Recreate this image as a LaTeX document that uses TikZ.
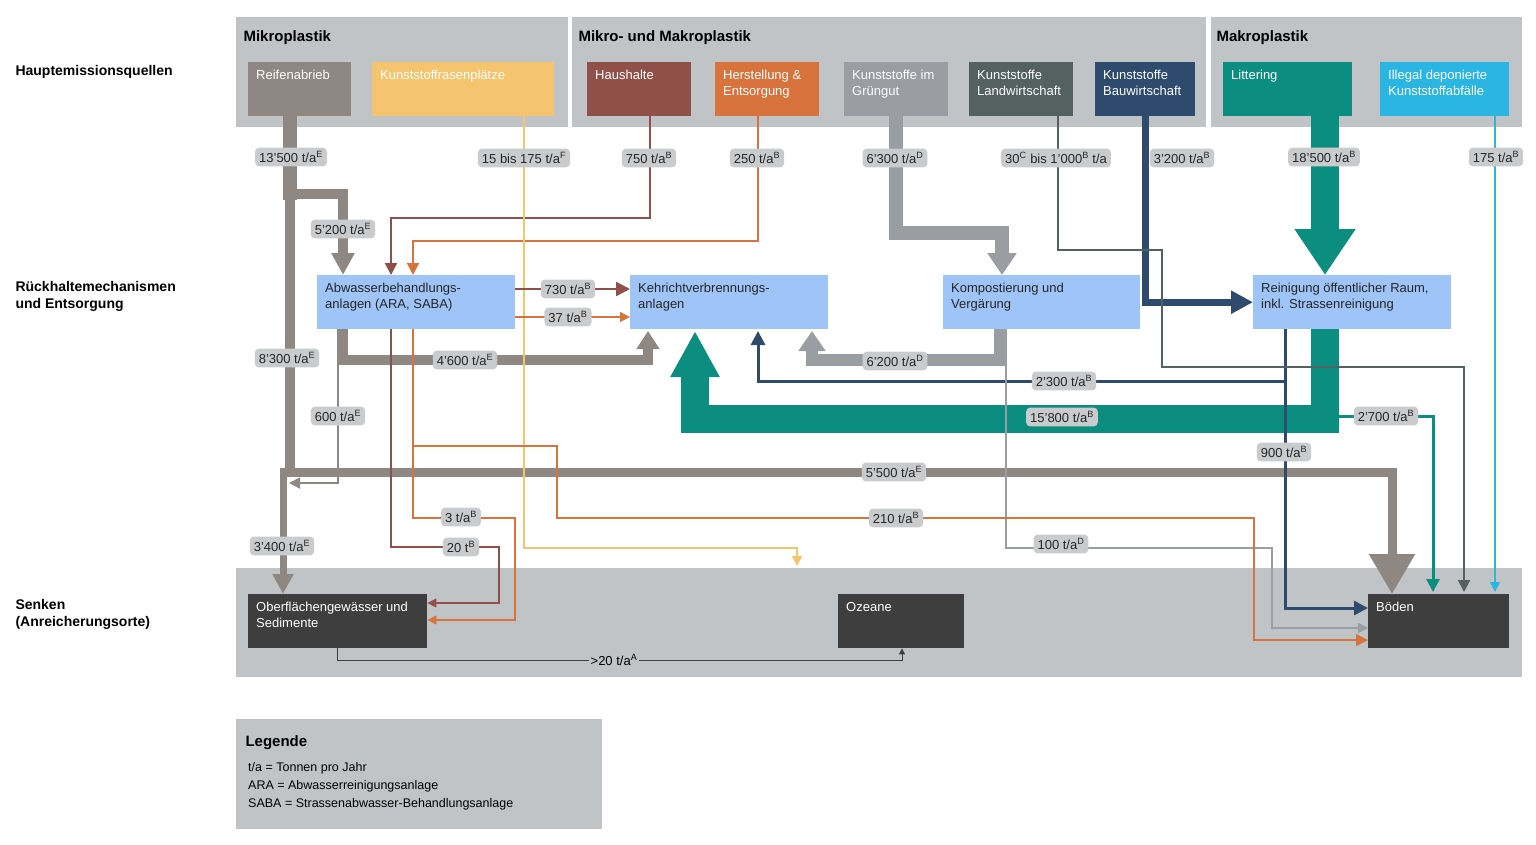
\documentclass[tikz,border=0pt]{standalone}
\usepackage{fontspec}
\setmainfont{Liberation Sans}
\usetikzlibrary{arrows.meta}

\definecolor{panel}{HTML}{C1C4C7}
\definecolor{labgray}{HTML}{C9CBCD}
\definecolor{cTire}{HTML}{8E8782}
\definecolor{cTurf}{HTML}{F5C46E}
\definecolor{cHouse}{HTML}{8E5048}
\definecolor{cProd}{HTML}{D8733E}
\definecolor{cGreen}{HTML}{9A9EA3}
\definecolor{cAgri}{HTML}{53625F}
\definecolor{cBau}{HTML}{2E4A6D}
\definecolor{cLitter}{HTML}{0B8E80}
\definecolor{cIllegal}{HTML}{2AB5E2}
\definecolor{cMid}{HTML}{9EC4F8}
\definecolor{cSink}{HTML}{3E3E3E}

\newcommand\btxt[2]{\parbox[t][38pt][t]{#1}{#2}}

\begin{document}
\begin{tikzpicture}[x=1pt,y=-1pt,
  every node/.style={font=\fontsize{13}{15.5}\selectfont},
  box/.style={anchor=north west, inner sep=8pt, align=left},
  src/.style={box, text=white},
  mid/.style={box, fill=cMid, text=black!85},
  sink/.style={box, fill=cSink, text=white},
  lab/.style={fill=labgray, rounded corners=4pt, inner sep=4pt, text=black!85},
  head/.style={anchor=west, font=\fontsize{15}{18}\selectfont\bfseries},
  tip/.style={-{Triangle[width=#1,length=#1]}}
]
\useasboundingbox (0,0) rectangle (1536,844);

% panels
\fill[panel] (236,17) rectangle (568,127);
\fill[panel] (572,17) rectangle (1206,127);
\fill[panel] (1211,17) rectangle (1522,127);
\fill[panel] (236,568) rectangle (1522,677);
\fill[panel] (236,719) rectangle (602,829);

\node[head] (hMikro) at (240,38) {Mikroplastik};
\node[head] (hMiMa) at (575,38) {Mikro- und Makroplastik};
\node[head] (hMakro) at (1213,38) {Makroplastik};

\node[head, font=\fontsize{14}{17}\selectfont\bfseries] (rQuellen) at (12,72) {Hauptemissionsquellen};
\node[head, font=\fontsize{14}{17}\selectfont\bfseries, align=left] (rRueck) at (12,296) {Rückhaltemechanismen\\und Entsorgung};
\node[head, font=\fontsize{14}{17}\selectfont\bfseries, align=left] (rSenken) at (12,614) {Senken\\(Anreicherungsorte)};

% sources
\node[src, fill=cTire] (reifen) at (248,62) {\btxt{87pt}{Reifenabrieb}};
\node[src, fill=cTurf] (rasen) at (372,62) {\btxt{166pt}{Kunststoffrasenplätze}};
\node[src, fill=cHouse] (haus) at (587,62) {\btxt{88pt}{Haushalte}};
\node[src, fill=cProd] (herst) at (715,62) {\btxt{88pt}{Herstellung \&\\Entsorgung}};
\node[src, fill=cGreen] (gruen) at (844,62) {\btxt{88pt}{Kunststoffe im\\Grüngut}};
\node[src, fill=cAgri] (agri) at (969,62) {\btxt{88pt}{Kunststoffe\\Landwirtschaft}};
\node[src, fill=cBau] (bau) at (1095,62) {\btxt{84pt}{Kunststoffe\\Bauwirtschaft}};
\node[src, fill=cLitter] (litter) at (1223,62) {\btxt{113pt}{Littering}};
\node[src, fill=cIllegal] (illegal) at (1380,62) {\btxt{113pt}{Illegal deponierte\\Kunststoffabfälle}};

% retention
\node[mid] (ara) at (317,275) {\btxt{182pt}{Abwasserbehandlungs-\\anlagen (ARA, SABA)}};
\node[mid] (kva) at (630,275) {\btxt{182pt}{Kehrichtverbrennungs-\\anlagen}};
\node[mid] (kompost) at (943,275) {\btxt{181pt}{Kompostierung und\\Vergärung}};
\node[mid] (rein) at (1253,275) {\btxt{182pt}{Reinigung öffentlicher Raum,\\inkl. Strassenreinigung}};

% sinks
\node[sink] (ober) at (248,594) {\btxt{163pt}{Oberflächengewässer und\\Sedimente}};
\node[sink] (ozean) at (838,594) {\btxt{110pt}{Ozeane}};
\node[sink] (boeden) at (1368,594) {\btxt{125pt}{Böden}};

% rails
\coordinate (xT) at (290,0);
\coordinate (xA) at (343,0);
\coordinate (xC) at (283,0);
\coordinate (xB) at (1392,0);
\coordinate (xL) at (1325,0);

% tyre flows
\draw[cTire, line width=14pt] (reifen.south -| xT) -- (290,200);
\draw[cTire, line width=10pt] (290,195) -- (290,477);
\draw[cTire, line width=10pt, tip=22pt] (285,194) -| (ara.north -| xA);
\draw[cTire, line width=9pt, -{Triangle[width=44pt,length=40pt]}] (286,472) -| (boeden.north -| xB);
\draw[cTire, line width=7pt, tip=20pt] (283,468) -- (ober.north -| xC);
\draw[cTire, line width=1.8pt, tip=11pt] (338,329) |- (289,483);
\draw[cTire, line width=10pt, -{Triangle[width=22pt,length=18pt]}] (ara.south -| xA) |- (648,360) -- (648,331);

% littering flows
\draw[cLitter, line width=28pt, -{Triangle[width=58pt,length=46pt]}] (litter.south -| xL) -- (rein.north -| xL);
\draw[cLitter, line width=28pt, -{Triangle[width=46pt,length=46pt]}] (rein.south -| xL) -- (1325,419) -- (695,419) -- (695,331);
\draw[cLitter, line width=3pt, tip=13pt] (1339,416) -| (1433,592);

% construction flows
\draw[cBau, line width=7pt, -{Triangle[width=22pt,length=22pt]}] (bau.south) |- (rein.west);
\draw[cBau, line width=3pt, tip=14pt] (1285,329) |- (758,381) -- (758,331);
\draw[cBau, line width=3pt, tip=14pt] (1285,381) |- (boeden.west |- 0,608);

% agriculture, green waste
\draw[cAgri, line width=2pt, tip=12pt] (agri.south -| 1058,0) |- (1162,250) |- (1464,367) -- (1464,592);
\draw[cGreen, line width=14pt, -{Triangle[width=28pt,length=22pt]}] (gruen.south) |- (1002,233) -- (kompost.north -| 1002,0);
\draw[cGreen, line width=12pt, -{Triangle[width=26pt,length=20pt]}] (kompost.south -| 1000,0) |- (812,360) -- (812,331);
\draw[cGreen, line width=1.5pt, tip=10pt] (1006,329) |- (1272,548) |- (boeden.west |- 0,628);

% other sources
\draw[cIllegal, line width=1.5pt, tip=10pt] (illegal.south -| 1495,0) -- (1495,592);
\draw[cHouse, line width=2pt, tip=12pt] (haus.south -| 650,0) |- (391,218) -- (ara.north -| 391,0);
\draw[cProd, line width=2pt, tip=12pt] (herst.south -| 758,0) |- (413,241) -- (ara.north -| 413,0);
\draw[cTurf, line width=1.5pt, tip=10pt] (rasen.south -| 524,0) |- (797,548) -- (797,566);

% from treatment plants
\draw[cHouse, line width=2.5pt, tip=14pt] (ara.east |- 0,289) -- (kva.west |- 0,289);
\draw[cProd, line width=1.2pt, tip=10pt] (ara.east |- 0,317) -- (kva.west |- 0,317);
\draw[cHouse, line width=1.2pt, tip=9pt] (391,329) |- (499,547) |- (ober.east |- 0,603);
\draw[cProd, line width=1.2pt, tip=9pt] (413,329) |- (515,518) |- (ober.east |- 0,620);
\draw[cProd, line width=1.5pt, tip=12pt] (413,446) -| (557,518) -- (1254,518) |- (boeden.west |- 0,640);
\draw[cSink, line width=1pt, tip=6pt] (ober.south -| 337,0) |- (902,660) -- (ozean.south -| 902,0);

% quantities
\node[lab] (q13500) at (291,157) {13'500 t/a\textsuperscript{E}};
\node[lab] (q175r) at (524,158) {15 bis 175 t/a\textsuperscript{F}};
\node[lab] (q750) at (649,158) {750 t/a\textsuperscript{B}};
\node[lab] (q250) at (757,158) {250 t/a\textsuperscript{B}};
\node[lab] (q6300) at (895,158) {6'300 t/a\textsuperscript{D}};
\node[lab] (q30) at (1056,158) {30\textsuperscript{C} bis 1'000\textsuperscript{B} t/a};
\node[lab] (q3200) at (1182,158) {3'200 t/a\textsuperscript{B}};
\node[lab] (q18500) at (1324,157) {18'500 t/a\textsuperscript{B}};
\node[lab] (q175i) at (1496,157) {175 t/a\textsuperscript{B}};
\node[lab] (q5200) at (343,229) {5'200 t/a\textsuperscript{E}};
\node[lab] (q730) at (568,289) {730 t/a\textsuperscript{B}};
\node[lab] (q37) at (568,317) {37 t/a\textsuperscript{B}};
\node[lab] (q8300) at (287,358) {8'300 t/a\textsuperscript{E}};
\node[lab] (q4600) at (465,360) {4'600 t/a\textsuperscript{E}};
\node[lab] (q600) at (338,416) {600 t/a\textsuperscript{E}};
\node[lab] (q6200) at (895,361) {6'200 t/a\textsuperscript{D}};
\node[lab] (q2300) at (1064,381) {2'300 t/a\textsuperscript{B}};
\node[lab] (q15800) at (1062,417) {15'800 t/a\textsuperscript{B}};
\node[lab] (q2700) at (1386,416) {2'700 t/a\textsuperscript{B}};
\node[lab] (q900) at (1284,452) {900 t/a\textsuperscript{B}};
\node[lab] (q5500) at (894,472) {5'500 t/a\textsuperscript{E}};
\node[lab] (q3) at (461,517) {3 t/a\textsuperscript{B}};
\node[lab] (q210) at (896,518) {210 t/a\textsuperscript{B}};
\node[lab] (q20) at (461,547) {20 t\textsuperscript{B}};
\node[lab] (q3400) at (282,546) {3'400 t/a\textsuperscript{E}};
\node[lab] (q100) at (1061,544) {100 t/a\textsuperscript{D}};
\node[fill=panel, inner sep=2pt] (q20a) at (614,660) {>20 t/a\textsuperscript{A}};

% legend
\node[head] (legTitle) at (242,743) {Legende};
\node[anchor=north west, align=left, inner sep=0pt, font=\fontsize{12.5}{18}\selectfont] (legText) at (248,762)
  {t/a = Tonnen pro Jahr\\ARA = Abwasserreinigungsanlage\\SABA = Strassenabwasser-Behandlungsanlage};
\end{tikzpicture}
\end{document}
